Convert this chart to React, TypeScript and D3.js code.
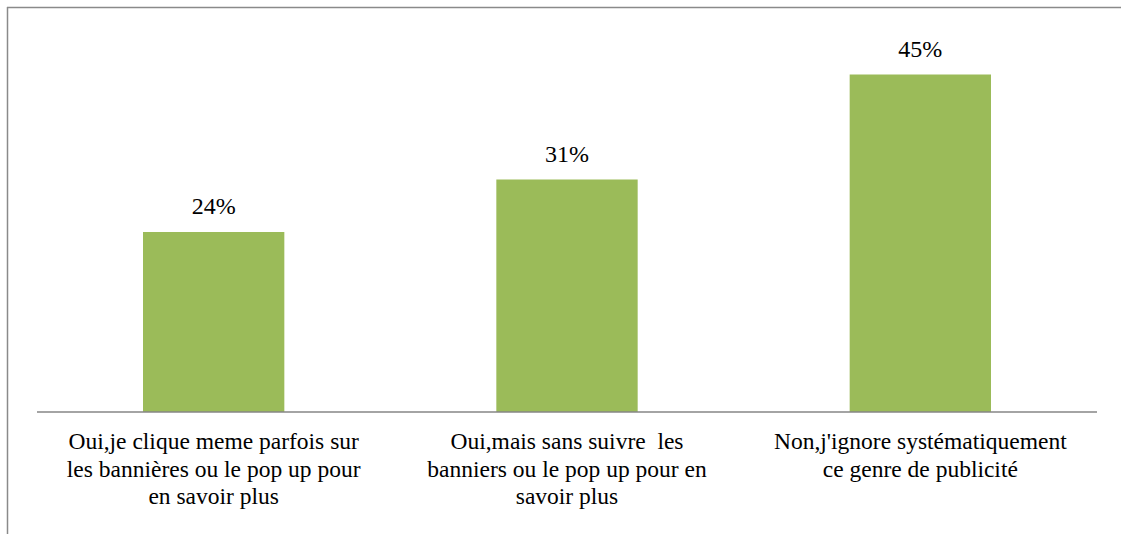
import React from "react";
import * as d3 from "d3";

const categories: string[][] = [
  ["Oui,je clique meme parfois sur", "les bannières ou le pop up pour", "en savoir plus"],
  ["Oui,mais sans suivre  les", "banniers ou le pop up pour en", "savoir plus"],
  ["Non,j'ignore systématiquement", "ce genre de publicité"],
];
const values: number[] = [24, 31, 45];
const valueLabels: string[] = ["24%", "31%", "45%"];

const W = 1121;
const H = 534;
const FONT = "'Liberation Serif', 'Times New Roman', 'DejaVu Serif', serif";

export default function App() {
  const x = d3
    .scaleBand<number>()
    .domain(values.map((_, i) => i))
    .range([37, 1097])
    .paddingInner(0.6)
    .paddingOuter(0.3);
  const y = d3.scaleLinear().domain([0, 50]).range([412, 37]);

  return (
    <svg
      width={W}
      height={H}
      style={{ position: "absolute", left: 0, top: 0, background: "#fff" }}
    >
      <line x1={7.5} x2={7.5} y1={7} y2={H} stroke="#8a8a8a" strokeWidth={1.5} />
      <line x1={7} x2={W} y1={7.5} y2={7.5} stroke="#8a8a8a" strokeWidth={1.5} />
      {values.map((v, i) => (
        <g key={i}>
          <rect
            x={x(i)!}
            y={y(v)}
            width={x.bandwidth()}
            height={y(0) - y(v)}
            fill="#9bbb59"
          />
          <text
            x={x(i)! + x.bandwidth() / 2}
            y={y(v) - 18}
            textAnchor="middle"
            style={{ fontFamily: FONT, fontSize: 24 }}
            fill="#000"
          >
            {valueLabels[i]}
          </text>
        </g>
      ))}
      <line x1={37} x2={1097} y1={412} y2={412} stroke="#868686" strokeWidth={1.5} />
      {categories.map((lines, i) => (
        <text
          key={i}
          textAnchor="middle"
          fill="#000"
          style={{ whiteSpace: "pre", fontFamily: FONT, fontSize: 23.5 }}
        >
          {lines.map((ln, j) => (
            <tspan key={j} x={x(i)! + x.bandwidth() / 2} y={449 + j * 27.5}>
              {ln}
            </tspan>
          ))}
        </text>
      ))}
    </svg>
  );
}
